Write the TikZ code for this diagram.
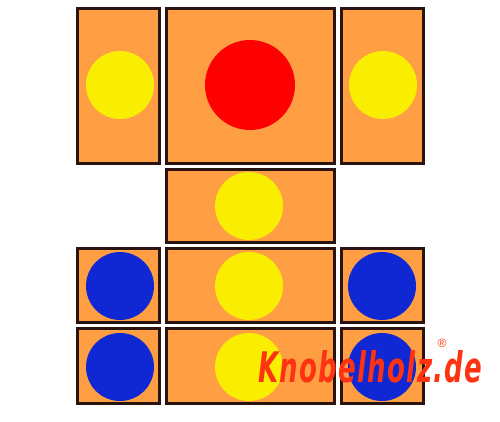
\documentclass[tikz,border=0pt]{standalone}
\usepackage{fontspec}
\setmainfont{Liberation Sans}
\newfontfamily\logofont[LetterSpace=5]{DejaVu Sans}
\definecolor{blockorange}{HTML}{FF9E42}
\definecolor{blockedge}{HTML}{2A1410}
\definecolor{ballyellow}{HTML}{FAEE00}
\definecolor{ballred}{HTML}{FF0000}
\definecolor{ballblue}{HTML}{1028D4}
\definecolor{logored}{HTML}{FF3312}
\tikzset{
  block/.style={draw=blockedge, fill=blockorange, line width=2.6pt, rectangle, inner sep=0pt},
  ball/.style={circle, inner sep=0pt, minimum size=#1},
  yball/.style={ball=68pt, fill=ballyellow},
  bball/.style={ball=68pt, fill=ballblue},
  rball/.style={ball=90pt, fill=ballred},
  logo/.style={text=logored, font=\logofont\bfseries\itshape, inner sep=0pt},
}
\begin{document}
\begin{tikzpicture}[x=1pt,y=-1pt]
\useasboundingbox (0,0) rectangle (500,422);
% blocks
\node[block, minimum width=82pt, minimum height=155pt] (A) at (118.5,86) {};
\node[block, minimum width=168pt, minimum height=155pt] (B) at (250.5,86) {};
\node[block, minimum width=82pt, minimum height=155pt] (C) at (382.5,86) {};
\node[block, minimum width=168pt, minimum height=73pt] (D) at (250.5,206) {};
\node[block, minimum width=82pt, minimum height=74pt] (E) at (118.5,285.5) {};
\node[block, minimum width=168pt, minimum height=74pt] (F) at (250.5,285.5) {};
\node[block, minimum width=82pt, minimum height=74pt] (G) at (382.5,285.5) {};
\node[block, minimum width=82pt, minimum height=75pt] (H) at (118.5,366) {};
\node[block, minimum width=168pt, minimum height=75pt] (I) at (250.5,366) {};
\node[block, minimum width=82pt, minimum height=75pt] (J) at (382.5,366) {};
% balls
\node[yball] (a) at (120,85) {};
\node[rball] (b) at (250,85) {};
\node[yball] (c) at (383,85) {};
\node[yball] (d) at (249,206) {};
\node[bball] (e) at (120,286) {};
\node[yball] (f) at (249,286) {};
\node[bball] (g) at (382,286) {};
\node[bball] (h) at (120,367) {};
\node[yball] (i) at (249,367) {};
\node[bball] (j) at (382,367) {};
% logo
\node[logo, anchor=base west] (logo) at (258,382) {\resizebox{224pt}{32pt}{Knobelholz.de}};
\node[text=logored, inner sep=0pt, font=\fontsize{12}{12}\selectfont, anchor=south] (reg) at (442,348) {®};
\end{tikzpicture}
\end{document}
